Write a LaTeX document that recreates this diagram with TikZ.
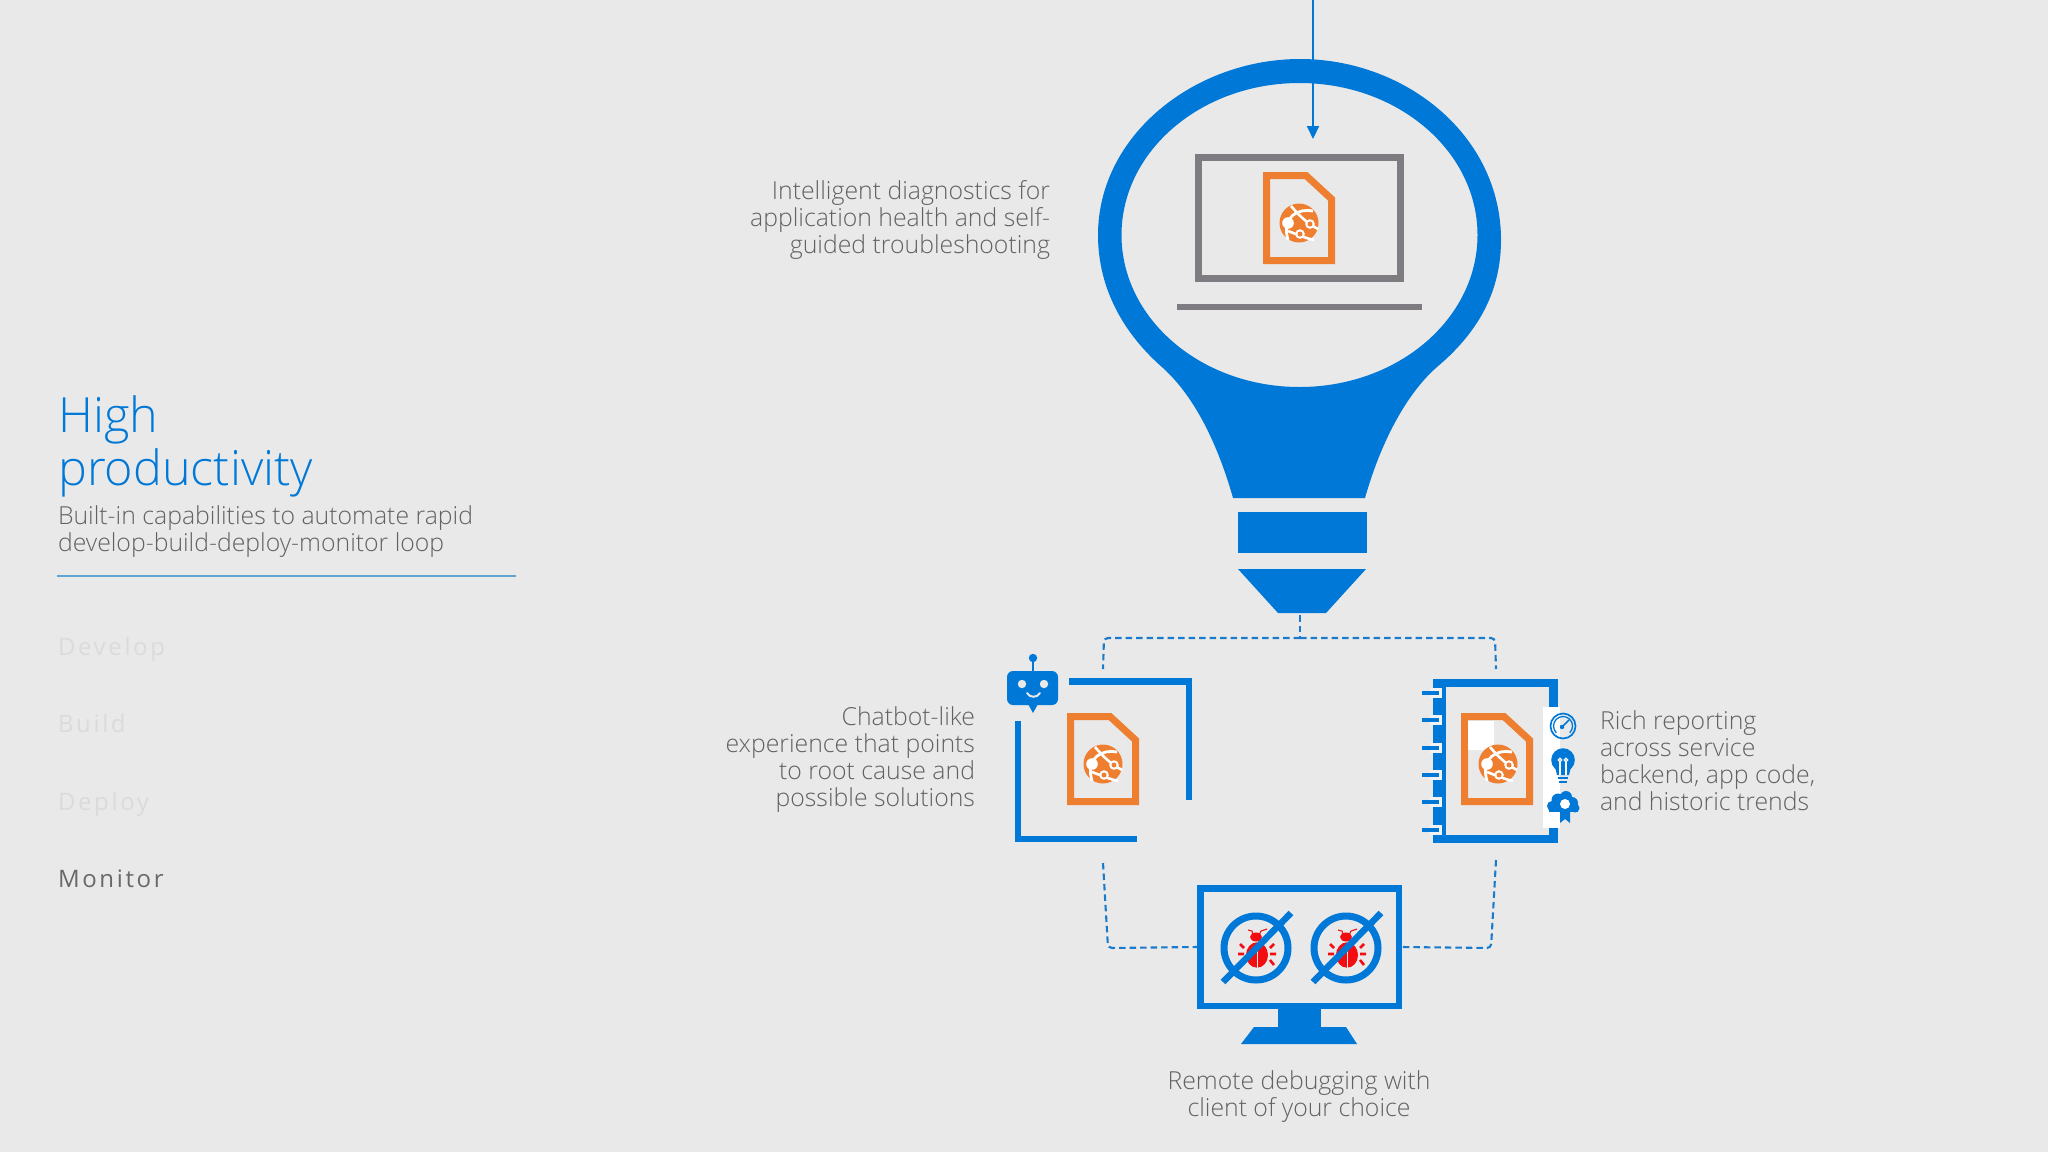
\documentclass[tikz,border=0pt]{standalone}
\usepackage{fontspec}
\setmainfont{Open Sans Light}
\newfontfamily\regfont{Open Sans}
\usetikzlibrary{arrows.meta}
\definecolor{bgc}{HTML}{E9E9EA}
\definecolor{msblue}{HTML}{0078D7}
\definecolor{dashc}{HTML}{1A7ACB}
\definecolor{docor}{HTML}{EE7F31}
\definecolor{lapgray}{HTML}{7E7C80}
\definecolor{txtc}{HTML}{626262}
\definecolor{sidec}{HTML}{696969}
\definecolor{fade}{HTML}{DBDBDC}
\definecolor{rulec}{HTML}{5FA5D0}
\definecolor{bugr}{HTML}{F40D10}
\tikzset{
  x=1pt,y=-1pt,
  body/.style={font=\fontsize{24.8}{27}\selectfont,text=txtc,inner sep=0pt,outer sep=0pt},
  side/.style={font=\regfont\fontsize{24}{28}\selectfont\addfontfeatures{LetterSpace=11},inner sep=0pt,outer sep=0pt,anchor=base west},
  dashline/.style={draw=dashc,line width=2.1pt,dash pattern=on 6.5pt off 4pt,rounded corners=4pt},
  bar/.style={draw=msblue,line width=6.5pt},
  globeicon/.pic={
    \fill[docor] (0,0) circle (19.5);
    \draw[white,line width=2.6pt] (-8,-17) .. controls (-1,-9) and (6,-1) .. (19,6);
    \draw[white,line width=2.8pt] (14,-12) .. controls (0,-15) and (-18,-7) .. (-11,17);
    \draw[white,line width=2.6pt] (-11,8) .. controls (-3,11) and (6,15) .. (15,17);
    \fill[white] (-11,0) circle (5.8);
    \fill[white] (11,1) circle (4.8);
    \fill[white] (1,11) circle (4.8);
    \fill[docor] (11,1) circle (2.5);
    \fill[docor] (1,11) circle (2.5);
  },
  docicon/.pic={
    \draw[docor,line width=7pt,miter limit=4] (3.5,3.5) -- (43,3.5) -- (68.5,27) -- (68.5,88.5) -- (3.5,88.5) -- cycle;
    \pic at (36,51) {globeicon};
  },
  docframe/.pic={
    \draw[docor,line width=7pt,miter limit=4] (3.5,3.5) -- (43,3.5) -- (68.5,27) -- (68.5,88.5) -- (3.5,88.5) -- cycle;
  },
  bugicon/.pic={
    \fill[bugr] (1,7) ellipse [x radius=11,y radius=12.7];
    \fill[bugr] (0,-11) ellipse [x radius=6,y radius=4.5];
    \draw[bugr,line width=1.1pt] (-3,-13) -- (-4,-17) -- (-8,-18);
    \draw[bugr,line width=1.1pt] (3,-13) -- (5,-17) -- (11,-19);
    \draw[bugr,line width=2.6pt]
      (-16,-4) -- (-12,0) (-18,6) -- (-12,6) (-16,17) -- (-12,12)
      (18,-4) -- (14,0) (20,6) -- (14,6) (18,17) -- (14,12);
    \draw[bgc,line width=.6pt] (1,-6) -- (1,20);
  },
  noicon/.pic={
    \pic at (0,0) {bugicon};
    \draw[msblue,line width=7pt] (0,0) circle (32);
    \draw[msblue,line width=6.5pt] (-33,34) -- (35,-35);
  },
}
\begin{document}
\begin{tikzpicture}
\useasboundingbox (0,0) rectangle (2048,1152);
\fill[bgc] (0,0) rectangle (2048,1152);

% left column
\node[font=\fontsize{48.5}{54}\selectfont,text=msblue,inner sep=0pt,anchor=base west,align=left] (title) at (58,432) {High};
\node[font=\fontsize{48.5}{54}\selectfont,text=msblue,inner sep=0pt,anchor=base west] (title2) at (58,485) {productivity};
\node[body,anchor=north west,align=left] (sub) at (58,505.5) {Built-in capabilities to automate rapid\\develop-build-deploy-monitor loop};
\draw[rulec,line width=1.4pt] (57,576) -- (516,576);
\node[side,text=fade] (s1) at (58,655) {Develop};
\node[side,text=fade] (s2) at (58,732) {Build};
\node[side,text=fade] (s3) at (58,810) {Deploy};
\node[side,text=sidec] (s4) at (58,887) {Monitor};

% bulb
\fill[msblue,even odd rule] (1233,498) .. controls (1218,445) and (1195,397) .. (1163,368)
  .. controls (1125,335) and (1098,290) .. (1098,235)
  .. controls (1098,135) and (1195,59) .. (1300,59)
  .. controls (1405,59) and (1501,135) .. (1501,240)
  .. controls (1501,295) and (1475,335) .. (1437,367)
  .. controls (1405,395) and (1380,445) .. (1365,498) -- cycle
  (1299.5,235) ellipse [x radius=178,y radius=152];
\fill[msblue] (1238,512) rectangle (1367,553);
\fill[msblue] (1238,569) -- (1366,569) -- (1326,613) -- (1278,613) -- cycle;

% arrow
\coordinate (top) at (1313,0);
\coordinate (arrowend) at (1313,139);
\draw[msblue,line width=2pt,-{Triangle[length=13pt,width=12pt]}] (top) -- (arrowend);

% laptop
\node[draw=lapgray,line width=6.5pt,minimum width=202pt,minimum height=121pt,inner sep=0pt] (laptop) at (1299.5,218) {};
\fill[lapgray] (1177,304) rectangle (1422,310);
\pic (docTop) at (1263,172) {docicon};

% connectors
\coordinate (tip) at (1300,615);
\coordinate (junction) at (1300,638);
\coordinate (lcorner) at (1104,638);
\coordinate (rcorner) at (1495,638);
\coordinate (lin) at (1103,669);
\coordinate (rin) at (1496,669);
\coordinate (lout) at (1103,863);
\coordinate (rout) at (1496,860);
\coordinate (lbot) at (1108,948);
\coordinate (rbot) at (1491,948);
\draw[dashline] (tip) -- (junction);
\draw[dashline] (junction) -- (lcorner) -- (lin);
\draw[dashline] (junction) -- (rcorner) -- (rin);

% monitor
\node[draw=msblue,line width=6.5pt,minimum width=198.5pt,minimum height=117.5pt,inner sep=0pt] (monitor) at (1299.5,947) {};
\fill[msblue] (1278,1008) rectangle (1321,1027);
\fill[msblue] (1254,1027) -- (1346,1027) -- (1357,1044) -- (1241,1044) -- cycle;
\pic (noA) at (1256,948) {noicon};
\pic (noB) at (1346,948) {noicon};
\draw[dashline] (lout) -- (lbot) -- (monitor.west);
\draw[dashline] (rout) -- (rbot) -- (monitor.east);

% chat frame
\draw[bar] (1069,681.5) -- (1189,681.5) -- (1189,800);
\draw[bar] (1018,721) -- (1018,839) -- (1137,839);
\pic (docChat) at (1067,713) {docicon};
\draw[msblue,line width=2.6pt] (1033,658) -- (1033,672);
\fill[msblue] (1033,658) circle (4.2);
\fill[msblue,rounded corners=6pt] (1007,671) rectangle (1058,705);
\fill[msblue] (1028,704) -- (1038,704) -- (1033,713) -- cycle;
\fill[bgc] (1022,684) circle (4.2) (1044,684) circle (4.2);
\draw[bgc,line width=2pt,line cap=round] (1027,693) .. controls (1030,698) and (1037,698) .. (1040,693);

% notebook
\fill[msblue] (1433,679) rectangle (1558,843);
\fill[bgc] (1446,687) rectangle (1549,835);
\fill[white] (1543,707) rectangle (1560,828);
\foreach \yy in {693,720,748,775,802,830}{
  \fill[bgc!60!white] (1430,\yy-5) rectangle (1442,\yy+5);
  \fill[msblue] (1422,\yy-2.4) rectangle (1439,\yy+2.4);
}
\pic (docNote) at (1461,713) {docframe};
\fill[white] (1468,721) rectangle (1494,750);
\pic (globeNote) at (1498,764) {globeicon};

% side icons
\draw[msblue,line width=1.7pt] (1563,726) circle (12.5);
\draw[msblue,line width=1.3pt] (1556.3,732.7) arc[start angle=135,end angle=405,radius=9.5];
\draw[msblue,line width=1.6pt] (1561,728) -- (1569,720);
\fill[msblue] (1562,727) circle (2.2);
\fill[msblue] (1563,760) circle (11.8);
\fill[msblue] (1555,767) -- (1571,767) -- (1569,775) -- (1557,775) -- cycle;
\fill[msblue] (1558,777) rectangle (1568,779);
\fill[msblue] (1559,781) rectangle (1567,783);
\draw[white,line width=1.2pt] (1560,775) -- (1560,762) (1566,775) -- (1566,762);
\draw[white,line width=1.2pt] (1560,760) circle (1.8) (1566,760) circle (1.8);
\fill[msblue] (1552,806) circle (5) (1558,800) circle (6.5) (1566,797) circle (6) (1572,803) circle (6) (1575,808) circle (4.5);
\fill[msblue] (1549,804) rectangle (1578,812);
\fill[msblue] (1560,808) -- (1570,808) -- (1570,823) -- (1565,819) -- (1560,823) -- cycle;
\fill[white] (1565,804) circle (5);

% labels
\node[body,anchor=north east,align=right] (tA) at (1050,181) {Intelligent diagnostics for\\application health and self-\\guided troubleshooting};
\node[body,anchor=north east,align=right] (tB) at (975,707) {Chatbot-like\\experience that points\\to root cause and\\possible solutions};
\node[body,anchor=north west,align=left] (tC) at (1600,711) {Rich reporting\\across service\\backend, app code,\\and historic trends};
\node[body,anchor=north,align=center] (tD) at (1299,1071) {Remote debugging with\\client of your choice};
\end{tikzpicture}
\end{document}
